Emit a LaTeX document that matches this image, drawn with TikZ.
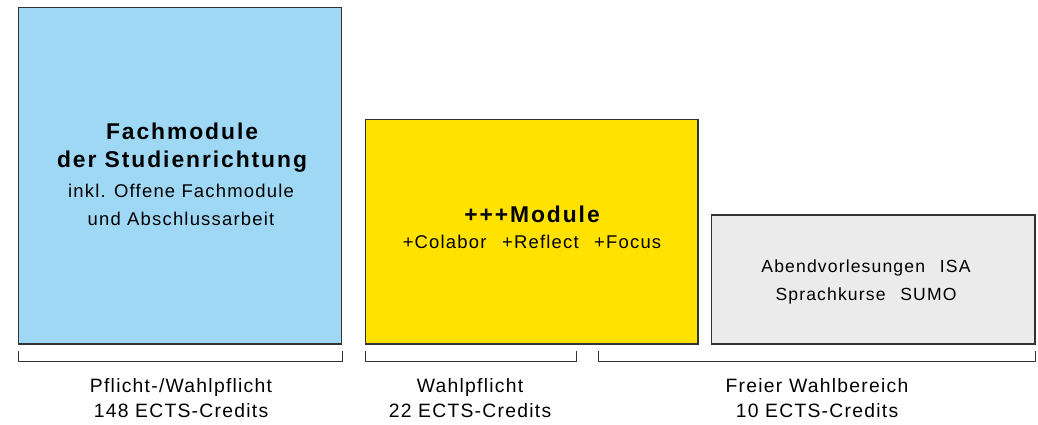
\documentclass[tikz,border=0pt]{standalone}
\usepackage{fontspec}
\setmainfont{Liberation Sans}
\newfontfamily\weitfont[LetterSpace=6.5]{Liberation Sans}
\newfontfamily\titelfont[LetterSpace=8.5]{Liberation Sans}
\definecolor{fachblau}{HTML}{9FD8F4}
\definecolor{modulgelb}{HTML}{FFE200}
\definecolor{freigrau}{HTML}{EBEBEB}
\definecolor{rahmen}{HTML}{333333}
\tikzset{
  block/.style={draw=rahmen, line width=0.6pt, rectangle, inner sep=0pt, align=center},
  titel/.style={align=center, font=\titelfont\bfseries\fontsize{13}{16}\selectfont},
  inhalt/.style={align=center, font=\weitfont\fontsize{10.5}{15.8}\selectfont},
  klammer/.style={draw=rahmen, line width=0.5pt},
  credits/.style={align=center, font=\weitfont\fontsize{11}{14.5}\selectfont},
}
\begin{document}
\begin{tikzpicture}[x=0.02cm, y=-0.02cm]
            \useasboundingbox (0,0) rectangle (1038,424);
            % Bloecke
            \node [block, fill=fachblau, minimum width=6.48cm, minimum height=6.74cm] (fach) at (180,175.5) {};
            \node [block, fill=modulgelb, minimum width=6.66cm, minimum height=4.5cm] (plus) at (531.5,231.5) {};
            \node [block, fill=freigrau, minimum width=6.48cm, minimum height=2.58cm] (frei) at (873,279.5) {};
            % Texte in den Bloecken
            \node [titel] (fachtitel) at (182,148) {Fachmodule\\der Studienrichtung};
            \node [inhalt] (fachtext) at (181,205) {inkl. Offene Fachmodule\\und Abschlussarbeit};
            \node [titel] (plustitel) at (532,214) {+++Module};
            \node [inhalt] (plustext) at (532,242) {+Colabor\enspace\ +Reflect\enspace\ +Focus};
            \node [inhalt, font=\weitfont\fontsize{10}{15.8}\selectfont] (freitext) at (866,282) {Abendvorlesungen\enspace\ ISA\\Sprachkurse\enspace\ SUMO};
            % Klammern
            \coordinate (k1a) at (18,351);   \coordinate (k1b) at (342,351);
            \coordinate (k2a) at (365,351);  \coordinate (k2b) at (576,351);
            \coordinate (k3a) at (598,351);  \coordinate (k3b) at (1035,351);
            \draw [klammer] (k1a) -- ++(0,10) -| (k1b);
            \draw [klammer] (k2a) -- ++(0,10) -| (k2b);
            \draw [klammer] (k3a) -- ++(0,10) -| (k3b);
            % Credits
            \node [credits] (pflicht) at (181,398) {Pflicht-/Wahlpflicht\\148 ECTS-Credits};
            \node [credits] (wahl) at (470,398) {Wahlpflicht\\22 ECTS-Credits};
            \node [credits] (freier) at (817,398) {Freier Wahlbereich\\10 ECTS-Credits};
\end{tikzpicture}
\end{document}
